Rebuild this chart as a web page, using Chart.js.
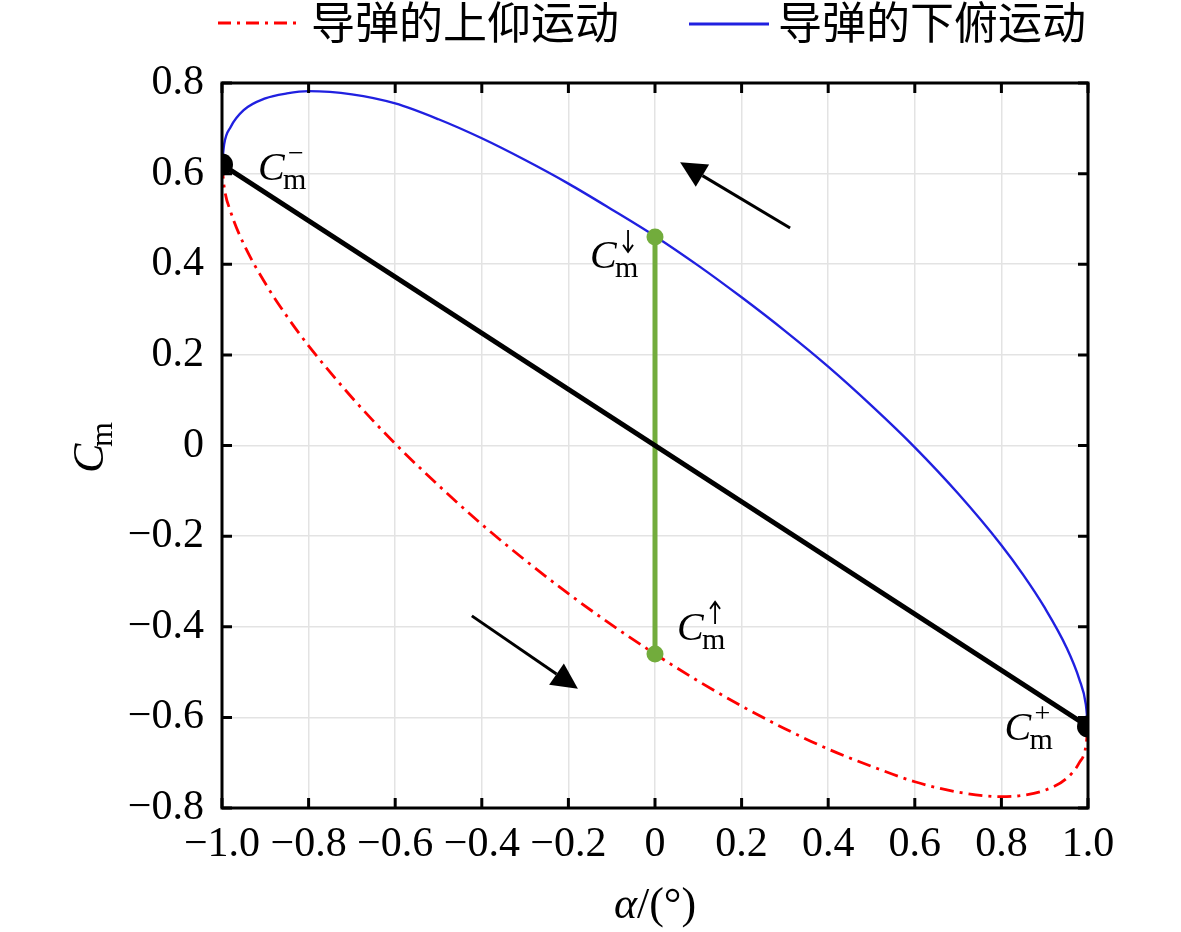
<!DOCTYPE html>
<html>
<head>
<meta charset="utf-8">
<script src="https://cdn.jsdelivr.net/npm/chart.js@4.4.0/dist/chart.umd.min.js"></script>
<style>
  html, body { margin: 0; padding: 0; background: #fff; }
  #chart { width: 1181px; height: 932px; }
</style>
</head>
<body>
<div id="chart"><canvas id="CanvasChart" width="1181" height="932"></canvas></div>
<script>
// values
let alphaVals = [-1, -0.995, -0.98, -0.95, -0.9, -0.85, -0.8, -0.7, -0.6, -0.5, -0.4, -0.3, -0.2, -0.1, 0,
                 0.1, 0.2, 0.3, 0.4, 0.5, 0.6, 0.7, 0.8, 0.85, 0.9, 0.95, 0.98, 0.995, 1];
// 导弹的下俯运动 (upper branch)
let cmDown = [0.620, 0.665, 0.703, 0.740, 0.766, 0.777, 0.782, 0.775, 0.755, 0.720, 0.678, 0.630, 0.578, 0.521, 0.462,
              0.397, 0.327, 0.253, 0.174, 0.088, -0.004, -0.106, -0.220, -0.285, -0.358, -0.445, -0.516, -0.571, -0.620];
// 导弹的上仰运动 (lower branch)
let cmUp = [0.620, 0.571, 0.516, 0.445, 0.358, 0.285, 0.220, 0.106, 0.004, -0.088, -0.174, -0.253, -0.327, -0.396, -0.460,
            -0.520, -0.575, -0.625, -0.670, -0.708, -0.742, -0.765, -0.775, -0.772, -0.761, -0.735, -0.700, -0.664, -0.620];
let midAlpha = [-1, 1];
let midCm = [0.62, -0.62];
let greenAlpha = [0, 0];
let greenCm = [-0.46, 0.46];
let legendLabels = ['导弹的上仰运动', '导弹的下俯运动'];
// annotation labels: [alpha, Cm, superscript]
let cmLabels = [[-0.917, 0.586, '\u2212'], [-0.150, 0.392, '\u2193'], [0.051, -0.429, '\u2191'], [0.807, -0.650, '+']];
// arrows: [tailAlpha, tailCm, tipAlpha, tipCm]
let arrows = [[0.312, 0.48, 0.058, 0.625], [-0.423, -0.376, -0.178, -0.537]];

const serif = '"Liberation Serif", "Times New Roman", serif';
const cjk = '"Noto Sans CJK SC", sans-serif';

function pts(xs, ys) { return xs.map((x, i) => ({x: x, y: ys[i]})); }
function fmt(v) {
  if (Math.abs(v) < 1e-9) return '0';
  let s = Math.abs(v).toFixed(1);
  return v < 0 ? '\u2212' + s : s;
}

const decor = {
  id: 'decor',
  afterDraw(chart) {
    const ctx = chart.ctx, a = chart.chartArea;
    const xs = chart.scales.x, ys = chart.scales.y;
    ctx.save();
    // arrows
    arrows.forEach(ar => {
      let x1 = xs.getPixelForValue(ar[0]), y1 = ys.getPixelForValue(ar[1]);
      let x2 = xs.getPixelForValue(ar[2]), y2 = ys.getPixelForValue(ar[3]);
      let ang = Math.atan2(y2 - y1, x2 - x1);
      let hl = 26, hw = 13;
      let bx = x2 - hl * Math.cos(ang), by = y2 - hl * Math.sin(ang);
      ctx.strokeStyle = '#000'; ctx.lineWidth = 3;
      ctx.beginPath(); ctx.moveTo(x1, y1); ctx.lineTo(bx, by); ctx.stroke();
      ctx.fillStyle = '#000';
      ctx.beginPath();
      ctx.moveTo(x2, y2);
      ctx.lineTo(bx + hw * Math.sin(ang), by - hw * Math.cos(ang));
      ctx.lineTo(bx - hw * Math.sin(ang), by + hw * Math.cos(ang));
      ctx.closePath(); ctx.fill();
    });
    // C_m labels
    ctx.fillStyle = '#000';
    ctx.textBaseline = 'alphabetic'; ctx.textAlign = 'left';
    cmLabels.forEach(l => {
      let x = xs.getPixelForValue(l[0]), y = ys.getPixelForValue(l[1]);
      ctx.font = 'italic 40px ' + serif;
      ctx.fillText('C', x, y);
      ctx.font = '30px ' + serif;
      ctx.fillText('m', x + 25, y + 9);
      if (l[2] === '\u2193' || l[2] === '\u2191') {
        // thin arrow superscript
        let ax = x + 38, top = y - 38, bot = y - 16;
        ctx.strokeStyle = '#000'; ctx.lineWidth = 1.8;
        ctx.beginPath();
        ctx.moveTo(ax, top); ctx.lineTo(ax, bot);
        if (l[2] === '\u2193') {
          ctx.moveTo(ax - 5, bot - 7); ctx.lineTo(ax, bot); ctx.lineTo(ax + 5, bot - 7);
        } else {
          ctx.moveTo(ax - 5, top + 7); ctx.lineTo(ax, top); ctx.lineTo(ax + 5, top + 7);
        }
        ctx.stroke();
      } else {
        ctx.font = '28px ' + serif;
        ctx.fillText(l[2], x + 30, y - 18);
      }
    });
    // frame + inward ticks
    ctx.strokeStyle = '#000'; ctx.lineWidth = 3;
    ctx.strokeRect(a.left, a.top, a.right - a.left, a.bottom - a.top);
    ctx.beginPath();
    xs.ticks.forEach(t => {
      let p = xs.getPixelForValue(t.value);
      ctx.moveTo(p, a.bottom); ctx.lineTo(p, a.bottom - 10);
      ctx.moveTo(p, a.top); ctx.lineTo(p, a.top + 10);
    });
    ys.ticks.forEach(t => {
      let p = ys.getPixelForValue(t.value);
      ctx.moveTo(a.left, p); ctx.lineTo(a.left + 10, p);
      ctx.moveTo(a.right, p); ctx.lineTo(a.right - 10, p);
    });
    ctx.stroke();
    // axis titles
    ctx.fillStyle = '#000';
    ctx.save();
    ctx.translate(103, 473);
    ctx.rotate(-Math.PI / 2);
    ctx.font = 'italic 44px ' + serif;
    ctx.fillText('C', 0, 0);
    ctx.font = '32px ' + serif;
    ctx.fillText('m', 26, 9);
    ctx.restore();
    ctx.font = 'italic 44px ' + serif;
    let w1 = ctx.measureText('\u03b1').width;
    ctx.font = '44px ' + serif;
    let w2 = ctx.measureText('/(\u00b0)').width;
    let sx = (a.left + a.right) / 2 - (w1 + w2) / 2;
    ctx.font = 'italic 44px ' + serif;
    ctx.fillText('\u03b1', sx, 918);
    ctx.font = '44px ' + serif;
    ctx.fillText('/(\u00b0)', sx + w1, 918);
    // legend
    ctx.lineWidth = 3;
    ctx.strokeStyle = '#ff0000';
    ctx.setLineDash([13, 6, 3, 6]);
    ctx.beginPath(); ctx.moveTo(218, 23); ctx.lineTo(302, 23); ctx.stroke();
    ctx.setLineDash([]);
    ctx.strokeStyle = '#2020e0';
    ctx.beginPath(); ctx.moveTo(689, 24); ctx.lineTo(769, 24); ctx.stroke();
    ctx.font = '44px ' + cjk;
    ctx.textBaseline = 'middle';
    ctx.fillStyle = '#000';
    ctx.fillText(legendLabels[0], 311, 22);
    ctx.fillText(legendLabels[1], 778, 22);
    ctx.restore();
  }
};

const config1 = {
  type: 'scatter',
  data: {
    datasets: [
      {
        label: legendLabels[0],
        data: pts(alphaVals, cmUp),
        showLine: true,
        borderColor: '#ff0000',
        borderWidth: 2.8,
        borderDash: [14, 6, 3, 6],
        pointRadius: 0,
        cubicInterpolationMode: 'monotone',
        order: 4
      },
      {
        label: legendLabels[1],
        data: pts(alphaVals, cmDown),
        showLine: true,
        borderColor: '#2020e0',
        borderWidth: 2.4,
        pointRadius: 0,
        cubicInterpolationMode: 'monotone',
        order: 3
      },
      {
        label: 'green',
        data: pts(greenAlpha, greenCm),
        showLine: true,
        borderColor: '#72ac3c',
        backgroundColor: '#72ac3c',
        borderWidth: 5,
        pointRadius: 8.5,
        pointBorderWidth: 0,
        order: 2
      },
      {
        label: 'mid',
        data: pts(midAlpha, midCm),
        showLine: true,
        borderColor: '#000',
        backgroundColor: '#000',
        borderWidth: 5,
        pointRadius: 11,
        pointBorderWidth: 0,
        clip: 0,
        order: 1
      }
    ]
  },
  options: {
    responsive: false,
    animation: false,
    layout: { padding: { top: 83, right: 93, left: 0, bottom: 0 } },
    plugins: { legend: { display: false }, tooltip: { enabled: false } },
    scales: {
      x: {
        type: 'linear', min: -1, max: 1,
        afterFit: s => { s.height = 124; },
        ticks: {
          stepSize: 0.2, autoSkip: false, maxRotation: 0, padding: 12,
          color: '#000', font: { family: serif, size: 42 },
          callback: v => fmt(v)
        },
        grid: { color: '#e3e3e3', lineWidth: 1.5, drawTicks: false },
        border: { display: false }
      },
      y: {
        type: 'linear', min: -0.8, max: 0.8,
        afterFit: s => { s.width = 222; },
        ticks: {
          stepSize: 0.2, autoSkip: false, padding: 18,
          color: '#000', font: { family: serif, size: 42 },
          callback: v => fmt(v)
        },
        grid: { color: '#e3e3e3', lineWidth: 1.5, drawTicks: false },
        border: { display: false }
      }
    }
  },
  plugins: [decor]
};

let ctx1 = document.getElementById('CanvasChart').getContext('2d');
var myChart1 = new Chart(ctx1, config1);
</script>
</body>
</html>
